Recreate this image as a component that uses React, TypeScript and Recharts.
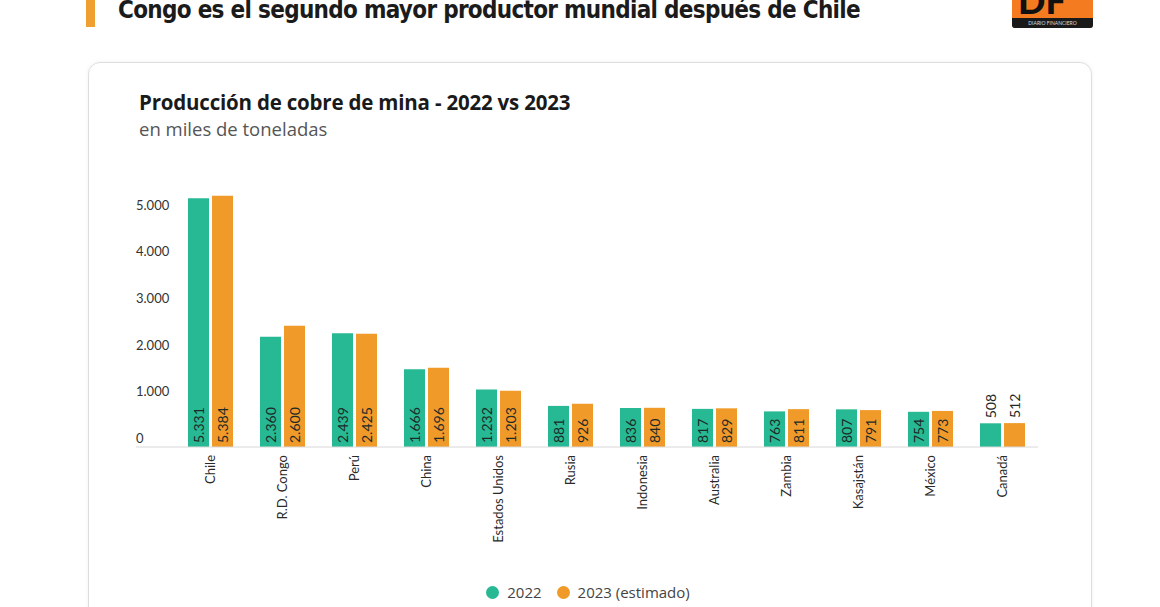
import React from 'react';
import { BarChart, Bar, XAxis, YAxis, LabelList, Legend } from 'recharts';

const countries = ['Chile', 'R.D. Congo', 'Perú', 'China', 'Estados Unidos', 'Rusia', 'Indonesia', 'Australia', 'Zambia', 'Kasajstán', 'México', 'Canadá'];
const values2022 = [5331, 2360, 2439, 1666, 1232, 881, 836, 817, 763, 807, 754, 508];
const values2023 = [5384, 2600, 2425, 1696, 1203, 926, 840, 829, 811, 791, 773, 512];
const yTicks = [0, 1000, 2000, 3000, 4000, 5000];
const seriesNames = ['2022', '2023 (estimado)'];
const colors = ['#27b994', '#f09a2a'];

const data = countries.map((c, i) => ({ country: c, y2022: values2022[i], y2023: values2023[i] }));

const fmt = (v: number) => String(v).replace(/\B(?=(\d{3})+(?!\d))/g, '.');

const FONT = 'Lato, "Open Sans", sans-serif';
const FONT2 = '"Open Sans", Lato, sans-serif';

const ValueLabel = (props: any) => {
  const { x, y, width, height, value } = props;
  const cx = x + width / 2;
  const inside = height > 30;
  const ty = inside ? y + height - 4 : y - 5;
  return (
    <text x={cx} y={ty} transform={`rotate(-90 ${cx} ${ty})`} textAnchor="start" dominantBaseline="central"
      fontSize={14} fill="#1d2a27" fontFamily={FONT}>{fmt(value)}</text>
  );
};

const XTick = (props: any) => {
  const { x, y, payload } = props;
  return (
    <text x={x} y={y} transform={`rotate(-90 ${x} ${y})`} textAnchor="end" dominantBaseline="central"
      fontSize={13} fill="#2a2a2a" fontFamily={FONT}>{payload.value}</text>
  );
};

const YTick = (props: any) => {
  const { x, y, payload } = props;
  return (
    <text x={x} y={y - 9} textAnchor="start" dominantBaseline="central" fontSize={13} fill="#333" fontFamily={FONT}>
      {fmt(payload.value)}
    </text>
  );
};

const LegendContent = (props: any) => {
  const { payload } = props;
  return (
    <div style={{ display: 'flex', justifyContent: 'center', alignItems: 'center', fontFamily: FONT2, fontSize: 15, color: '#444' }}>
      {(payload || []).map((p: any, i: number) => (
        <div key={i} style={{ display: 'flex', alignItems: 'center', marginLeft: i === 0 ? 0 : 15 }}>
          <span style={{ width: 13, height: 13, borderRadius: 7, background: p.color, display: 'inline-block', marginRight: 8 }} />
          <span>{p.value}</span>
        </div>
      ))}
    </div>
  );
};

export default function App() {
  return (
    <div style={{ position: 'absolute', left: 0, top: 0, width: 1160, height: 607, background: '#fff', overflow: 'hidden' }}>
      {/* header */}
      <div style={{ position: 'absolute', left: 86, top: 0, width: 9, height: 27, background: '#f0a030' }} />
      <div style={{ position: 'absolute', left: 118, top: 0, lineHeight: '20px', fontFamily: '"DejaVu Sans Condensed", "DejaVu Sans", sans-serif', fontWeight: 700, fontSize: 24, color: '#1b1b1b', letterSpacing: -0.7, whiteSpace: 'nowrap' }}>
        Congo es el segundo mayor productor mundial después de Chile
      </div>
      {/* logo */}
      <div style={{ position: 'absolute', left: 1012, top: 0, width: 81, height: 28, background: '#f47b20', overflow: 'hidden', borderRadius: '0 0 3px 3px' }}>
        <div style={{ position: 'absolute', left: 6, top: -22, fontFamily: 'Lato, sans-serif', fontWeight: 900, fontSize: 36, color: '#111' }}>DF</div>
        <div style={{ position: 'absolute', left: 0, top: 18, width: 81, height: 10, background: '#1a1a1a', color: '#ddd', fontSize: 5, fontFamily: 'Lato, sans-serif', textAlign: 'center', lineHeight: '10px' }}>DIARIO FINANCIERO</div>
      </div>
      {/* card */}
      <div style={{ position: 'absolute', left: 88, top: 62, width: 1002, height: 600, border: '1px solid #dedede', borderRadius: 12, boxShadow: '0 0 4px rgba(0,0,0,0.06)' }} />
      <div style={{ position: 'absolute', left: 139, top: 89, lineHeight: '26px', fontFamily: FONT2, fontWeight: 700, fontSize: 20.5, color: '#1a1a1a', whiteSpace: 'nowrap', letterSpacing: -0.2 }}>
        Producción de cobre de mina - 2022 vs 2023
      </div>
      <div style={{ position: 'absolute', left: 139, top: 117, lineHeight: '24px', fontFamily: FONT2, fontSize: 18.5, color: '#555', whiteSpace: 'nowrap' }}>
        en miles de toneladas
      </div>
      <div style={{ position: 'absolute', left: 0, top: 0 }}>
        <BarChart width={1160} height={607} data={data} margin={{ top: 167, right: 122, bottom: 60, left: 133 }} barSize={21} barGap={3}>
          <XAxis dataKey="country" interval={0} height={100} tickSize={0} tickMargin={8} tickLine={false}
            axisLine={{ stroke: '#d8d8d8' }} tick={<XTick />} padding={{ left: 38, right: 0 }} />
          <YAxis width={3} domain={[0, 6000]} ticks={yTicks} tickSize={0} tickMargin={0} tickLine={false}
            axisLine={false} tick={<YTick />} />
          <Legend layout="vertical" align="center" verticalAlign="middle" content={<LegendContent />}
            wrapperStyle={{ top: 582, left: 8, width: 1160 }} />
          <Bar dataKey="y2022" name={seriesNames[0]} fill={colors[0]} isAnimationActive={false}>
            <LabelList dataKey="y2022" content={<ValueLabel />} />
          </Bar>
          <Bar dataKey="y2023" name={seriesNames[1]} fill={colors[1]} isAnimationActive={false}>
            <LabelList dataKey="y2023" content={<ValueLabel />} />
          </Bar>
        </BarChart>
      </div>
    </div>
  );
}
